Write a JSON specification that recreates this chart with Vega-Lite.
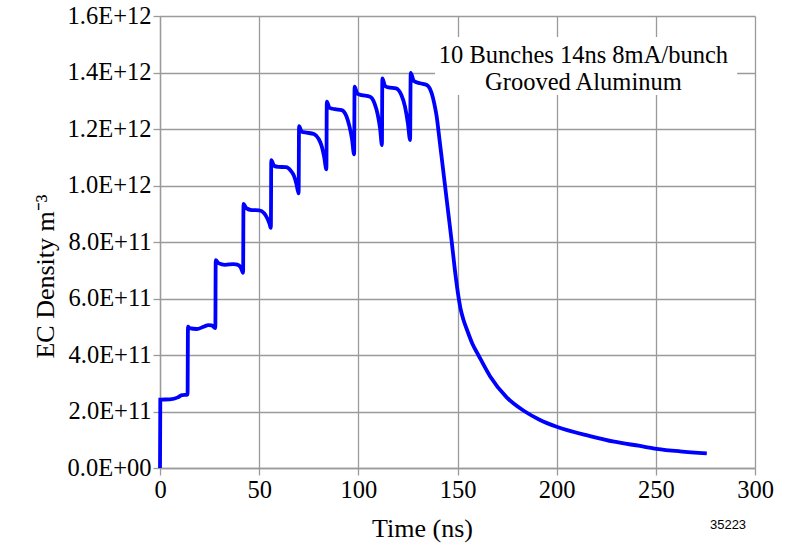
{
  "$schema": "https://vega.github.io/schema/vega-lite/v6.json",
  "width": 595,
  "height": 452,
  "autosize": {"type": "none"},
  "padding": {"left": 160, "top": 16, "right": 34, "bottom": 76},
  "background": "white",
  "config": {
    "view": {"stroke": null},
    "font": "Liberation Serif",
    "axis": {
      "grid": true,
      "gridColor": "#9a9a9a",
      "gridWidth": 1.3,
      "domainColor": "#9a9a9a",
      "domainWidth": 1.3,
      "tickColor": "#9a9a9a",
      "tickSize": 7,
      "tickWidth": 1.3,
      "labelFont": "Liberation Serif",
      "labelFontSize": 24.5,
      "labelColor": "black",
      "titleFont": "Liberation Serif",
      "titleFontSize": 26,
      "titleFontWeight": "normal",
      "titleColor": "black"
    }
  },
  "layer": [
    {
      "data": {"values": [{"x1": 138.7, "x2": 291, "y1": 1.32e12, "y2": 1.526e12}]},
      "mark": {"type": "rect", "fill": "white", "stroke": null},
      "encoding": {
        "x": {"field": "x1", "type": "quantitative", "scale": {"domain": [0, 300], "nice": false},
          "axis": {"values": [0, 50, 100, 150, 200, 250, 300], "title": "Time (ns)", "labelPadding": 3, "labelFlush": false, "titleX": 262, "titleY": 68, "titleAlign": "center", "titleBaseline": "alphabetic"}},
        "x2": {"field": "x2"},
        "y": {"field": "y1", "type": "quantitative", "scale": {"domain": [0, 1.6e12], "nice": false, "zero": true},
          "axis": {"values": [0, 2e11, 4e11, 6e11, 8e11, 1e12, 1.2e12, 1.4e12, 1.6e12], "labelExpr": "datum.value == 0 ? '0.0E+00' : replace(format(datum.value, '.1e'), 'e', 'E')", "labelPadding": 2, "labelFlush": false, "title": "EC Density  m⁻³", "titleX": -115, "titleY": 260, "titleAlign": "center", "titleBaseline": "middle", "titleAngle": -90}},
        "y2": {"field": "y2"}
      }
    },
    {
      "data": {"values": [
        {"t": 0, "n": 0}, {"t": 0.15, "n": 2.42e11}, {"t": 5, "n": 2.43e11}, {"t": 9, "n": 2.5e11}, {"t": 11, "n": 2.58e11}, {"t": 13.9, "n": 2.6e11},
        {"t": 14.1, "n": 5.0e11}, {"t": 15, "n": 4.95e11}, {"t": 18.5, "n": 4.92e11}, {"t": 22, "n": 5.0e11}, {"t": 24.4, "n": 5.06e11}, {"t": 26, "n": 5.05e11}, {"t": 27.9, "n": 4.95e11},
        {"t": 28.1, "n": 7.36e11}, {"t": 29.5, "n": 7.25e11}, {"t": 32.8, "n": 7.19e11}, {"t": 37, "n": 7.22e11}, {"t": 39, "n": 7.2e11}, {"t": 40.7, "n": 7.1e11}, {"t": 41.9, "n": 6.91e11},
        {"t": 42.1, "n": 9.35e11}, {"t": 43.5, "n": 9.2e11}, {"t": 46.2, "n": 9.13e11}, {"t": 50, "n": 9.12e11}, {"t": 52.5, "n": 9.02e11}, {"t": 54, "n": 8.85e11}, {"t": 55.2, "n": 8.65e11}, {"t": 55.9, "n": 8.5e11},
        {"t": 56.1, "n": 1.09e12}, {"t": 57.5, "n": 1.07e12}, {"t": 59.6, "n": 1.066e12}, {"t": 63.5, "n": 1.065e12}, {"t": 66, "n": 1.052e12}, {"t": 67.5, "n": 1.035e12}, {"t": 68.8, "n": 1.005e12}, {"t": 69.9, "n": 0.972e12},
        {"t": 70.1, "n": 1.21e12}, {"t": 71.5, "n": 1.19e12}, {"t": 74, "n": 1.187e12}, {"t": 77.6, "n": 1.182e12}, {"t": 80, "n": 1.165e12}, {"t": 81.5, "n": 1.14e12}, {"t": 82.8, "n": 1.1e12}, {"t": 83.9, "n": 1.057e12},
        {"t": 84.1, "n": 1.297e12}, {"t": 85.5, "n": 1.275e12}, {"t": 88.2, "n": 1.27e12}, {"t": 91.6, "n": 1.267e12}, {"t": 94, "n": 1.245e12}, {"t": 95.5, "n": 1.21e12}, {"t": 96.8, "n": 1.165e12}, {"t": 97.9, "n": 1.11e12},
        {"t": 98.1, "n": 1.35e12}, {"t": 99.5, "n": 1.325e12}, {"t": 101.7, "n": 1.32e12}, {"t": 105.9, "n": 1.314e12}, {"t": 108.2, "n": 1.29e12}, {"t": 109.8, "n": 1.25e12}, {"t": 111, "n": 1.2e12}, {"t": 111.9, "n": 1.143e12},
        {"t": 112.1, "n": 1.379e12}, {"t": 113.5, "n": 1.352e12}, {"t": 115.1, "n": 1.347e12}, {"t": 119, "n": 1.344e12}, {"t": 121.7, "n": 1.32e12}, {"t": 123.5, "n": 1.28e12}, {"t": 125, "n": 1.22e12}, {"t": 126.1, "n": 1.161e12},
        {"t": 126.4, "n": 1.399e12}, {"t": 128, "n": 1.37e12}, {"t": 131.1, "n": 1.362e12}, {"t": 134.5, "n": 1.356e12}, {"t": 137, "n": 1.326e12}, {"t": 138.3, "n": 1.29e12}, {"t": 139.5, "n": 1.244e12}, {"t": 140.8, "n": 1.17e12},
        {"t": 142, "n": 1.1e12}, {"t": 143.7, "n": 1.0e12}, {"t": 145.4, "n": 0.9e12}, {"t": 147.1, "n": 0.8e12}, {"t": 148.7, "n": 0.7e12}, {"t": 150.2, "n": 0.62e12}, {"t": 151.5, "n": 0.565e12}, {"t": 153, "n": 0.525e12},
        {"t": 155, "n": 0.485e12}, {"t": 157.5, "n": 0.44e12}, {"t": 160.5, "n": 0.4e12}, {"t": 166.4, "n": 0.325e12}, {"t": 174.8, "n": 0.25e12}, {"t": 184, "n": 0.2e12}, {"t": 191.6, "n": 0.17e12}, {"t": 200, "n": 0.146e12}, {"t": 216.8, "n": 0.113e12},
        {"t": 229, "n": 0.093e12}, {"t": 242, "n": 0.078e12}, {"t": 250.4, "n": 0.068e12}, {"t": 262.2, "n": 0.059e12}, {"t": 275.7, "n": 0.052e12}
      ]},
      "mark": {"type": "line", "color": "#0000ff", "strokeWidth": 3.8, "interpolate": "monotone"},
      "encoding": {
        "x": {"field": "t", "type": "quantitative"},
        "y": {"field": "n", "type": "quantitative"}
      }
    },
    {
      "data": {"values": [
        {"label": "10 Bunches 14ns 8mA/bunch", "tx": 213.5, "ty": 1.4336e12},
        {"label": "Grooved Aluminum", "tx": 213.5, "ty": 1.338e12}
      ]},
      "mark": {"type": "text", "font": "Liberation Serif", "fontSize": 24.5, "align": "center", "baseline": "alphabetic", "color": "black"},
      "encoding": {
        "x": {"field": "tx", "type": "quantitative"},
        "y": {"field": "ty", "type": "quantitative"},
        "text": {"field": "label"}
      }
    },
    {
      "data": {"values": [{"label": "35223", "tx": 286.4, "ty": -2.0e11}]},
      "mark": {"type": "text", "font": "Liberation Sans", "fontSize": 13, "align": "center", "baseline": "middle", "color": "black"},
      "encoding": {
        "x": {"field": "tx", "type": "quantitative"},
        "y": {"field": "ty", "type": "quantitative"},
        "text": {"field": "label"}
      }
    }
  ]
}
